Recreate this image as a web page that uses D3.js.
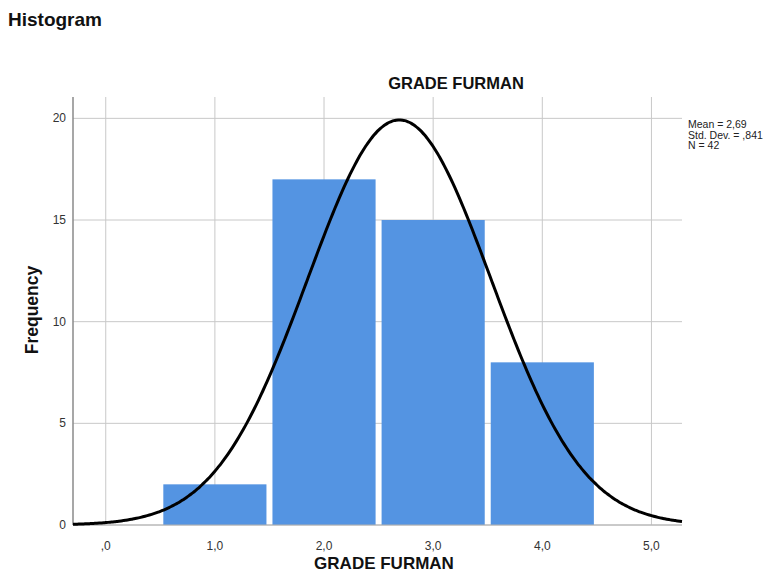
<!DOCTYPE html>
<html>
<head>
<meta charset="utf-8">
<script src="https://cdn.jsdelivr.net/npm/d3@7"></script>
<style>
  body { margin: 0; background: #fff; }
  svg text { font-family: "Liberation Sans", Arial, sans-serif; }
</style>
</head>
<body>
<svg id="chart" width="769" height="575"></svg>
<script>
// histogram bins (grade values) and their frequencies
const grades = [1, 2, 3, 4];
const counts = [2, 17, 15, 8];
const xTicks = [0, 1, 2, 3, 4, 5];
const xTickLabels = [",0", "1,0", "2,0", "3,0", "4,0", "5,0"];
const yTicks = [0, 5, 10, 15, 20];
const stats = ["Mean = 2,69", "Std. Dev. = ,841", "N = 42"];
const mean = 2.69, sd = 0.841, n = 42;

const width = 769, height = 575;
const margin = { top: 97, right: 87, bottom: 50, left: 73 };

const svg = d3.select("#chart");

const x = d3.scaleLinear()
  .domain([-0.3, 5.28])
  .range([margin.left, width - margin.right]);

const y = d3.scaleLinear()
  .domain([0, 21.05])
  .range([height - margin.bottom, margin.top]);

// grid
svg.append("g")
  .selectAll("line")
  .data(xTicks)
  .join("line")
  .attr("x1", d => x(d)).attr("x2", d => x(d))
  .attr("y1", y.range()[0]).attr("y2", margin.top)
  .attr("stroke", "#c8c8c8").attr("stroke-width", 1);

svg.append("g")
  .selectAll("line")
  .data(yTicks)
  .join("line")
  .attr("x1", margin.left).attr("x2", width - margin.right)
  .attr("y1", d => y(d)).attr("y2", d => y(d))
  .attr("stroke", "#c8c8c8").attr("stroke-width", 1);

// bars
const gap = 3;
svg.append("g")
  .selectAll("rect")
  .data(grades)
  .join("rect")
  .attr("x", d => x(d - 0.5) + gap)
  .attr("width", d => x(d + 0.5) - x(d - 0.5) - 2 * gap)
  .attr("y", (d, i) => y(counts[i]))
  .attr("height", (d, i) => y(0) - y(counts[i]))
  .attr("fill", "#5494e2");

// axes lines
svg.append("line")
  .attr("x1", margin.left).attr("x2", margin.left)
  .attr("y1", margin.top).attr("y2", y(0))
  .attr("stroke", "#8a8a8a").attr("stroke-width", 1.5);
svg.append("line")
  .attr("x1", margin.left).attr("x2", width - margin.right)
  .attr("y1", y(0)).attr("y2", y(0))
  .attr("stroke", "#b0b0b0").attr("stroke-width", 1.2);

// normal curve
const curvePts = d3.range(x.domain()[0], x.domain()[1] + 0.001, 0.02).map(v => [
  v,
  n / (sd * Math.sqrt(2 * Math.PI)) * Math.exp(-0.5 * ((v - mean) / sd) ** 2)
]);
svg.append("path")
  .datum(curvePts)
  .attr("fill", "none")
  .attr("stroke", "#000")
  .attr("stroke-width", 3)
  .attr("d", d3.line().x(d => x(d[0])).y(d => y(d[1])).curve(d3.curveBasis));

// tick labels
svg.append("g")
  .selectAll("text")
  .data(yTicks)
  .join("text")
  .attr("x", margin.left - 7)
  .attr("y", d => y(d) + 4)
  .attr("text-anchor", "end")
  .attr("font-size", 12)
  .attr("fill", "#333")
  .text(d => d);

svg.append("g")
  .selectAll("text")
  .data(xTicks)
  .join("text")
  .attr("x", d => x(d))
  .attr("y", height - 25)
  .attr("text-anchor", "middle")
  .attr("font-size", 12)
  .attr("fill", "#333")
  .text((d, i) => xTickLabels[i]);

// titles
svg.append("text")
  .attr("x", 8).attr("y", 26)
  .attr("font-size", 19).attr("font-weight", "bold")
  .attr("fill", "#111")
  .text("Histogram");

svg.append("text")
  .attr("x", 456).attr("y", 89)
  .attr("text-anchor", "middle")
  .attr("font-size", 16.5).attr("font-weight", "bold")
  .attr("fill", "#111")
  .text("GRADE FURMAN");

svg.append("text")
  .attr("x", 384).attr("y", 569)
  .attr("text-anchor", "middle")
  .attr("font-size", 17).attr("font-weight", "bold")
  .attr("fill", "#111")
  .text("GRADE FURMAN");

svg.append("text")
  .attr("transform", "translate(38,310) rotate(-90)")
  .attr("text-anchor", "middle")
  .attr("font-size", 17.5).attr("font-weight", "bold")
  .attr("fill", "#111")
  .text("Frequency");

// stats legend
svg.append("g")
  .selectAll("text")
  .data(stats)
  .join("text")
  .attr("x", 688)
  .attr("y", (d, i) => 128 + i * 10.5)
  .attr("font-size", 10.5)
  .attr("fill", "#222")
  .text(d => d);
</script>
</body>
</html>
